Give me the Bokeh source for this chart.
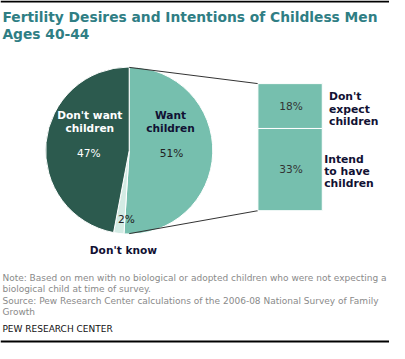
import math
from bokeh.plotting import figure
from bokeh.models import Range1d
from bokeh.core.properties import value
from bokeh.embed import file_html
from bokeh.resources import INLINE

# ---- data ----
pie_labels = ["Want children", "Don't know", "Don't want children"]
pie_values = [51, 2, 47]
pie_colors = ["#76bfae", "#d3ebe4", "#2c5a4e"]

bar_labels = ["Don't expect children", "Intend to have children"]
bar_values = [18, 33]
bar_color = "#76bfae"

title_lines = ["Fertility Desires and Intentions of Childless Men", "Ages 40-44"]
note_lines = ["Note: Based on men with no biological or adopted children who were not expecting a",
              "biological child at time of survey."]
source_lines = ["Source: Pew Research Center calculations of the 2006-08 National Survey of Family",
                "Growth"]
credit = "PEW RESEARCH CENTER"

# ---- layout (reference pixel space, y measured from top) ----
W, H = 405, 359
S = 389 / 405.0
FONT = value("DejaVu Sans")


def Y(v):
    return H - v


def fs(px):
    return "%.1fpx" % (px * S)


p = figure(width=389, height=343, x_range=Range1d(0, W), y_range=Range1d(0, H),
           output_backend="svg", toolbar_location=None, min_border=0)
p.axis.visible = False
p.grid.visible = False
p.outline_line_color = None
p.background_fill_color = "white"
p.border_fill_color = "white"

# top and bottom rules
p.line(x=[0, W], y=[Y(1), Y(1)], line_color="black", line_width=2)
p.line(x=[0, W], y=[Y(357), Y(357)], line_color="black", line_width=2)

# title
for i, t in enumerate(title_lines):
    p.text(x=[2], y=[Y(17 + 18 * i)], text=[t], text_font=FONT, text_font_style="bold",
           text_font_size=fs(14.4), text_color="#2f7e84", text_baseline="middle", text_align="left")

# pie
cx, cy, r = 134, 157, 87
total = float(sum(pie_values))
start = math.pi / 2
starts, ends = [], []
for v in pie_values:
    end = start - 2 * math.pi * v / total
    starts.append(start)
    ends.append(end)
    start = end
p.wedge(x=[cx] * 3, y=[Y(cy)] * 3, radius=r, start_angle=starts, end_angle=ends,
        direction="clock", fill_color=pie_colors, line_color="white", line_width=1)

# connector lines to bar
bx0, bx1, btop, bbot = 268, 335, 87, 220
p.line(x=[cx, bx0], y=[Y(cy - r), Y(btop)], line_color="#333333", line_width=1)
p.line(x=[cx, bx0], y=[Y(cy + r), Y(bbot)], line_color="#333333", line_width=1)

# stacked bar
k = (bbot - btop) / float(sum(bar_values))
tops, bots = [], []
cur = btop
for v in bar_values:
    tops.append(Y(cur))
    cur += v * k
    bots.append(Y(cur))
p.quad(left=bx0, right=bx1, top=tops, bottom=bots, fill_color=bar_color,
       line_color="white", line_width=1)

# bar value labels
for i, v in enumerate(bar_values):
    p.text(x=[(bx0 + bx1) / 2 + 1], y=[(tops[i] + bots[i]) / 2 + 0.5], text=["%d%%" % v],
           text_font=FONT, text_font_size=fs(11), text_color="#333333",
           text_align="center", text_baseline="middle")

# bar category labels
bar_text = [["Don't", "expect", "children"], ["Intend", "to have", "children"]]
bar_tx = [342, 337]
bar_ty = [101, 166]
for i, lines in enumerate(bar_text):
    for j, ln in enumerate(lines):
        p.text(x=[bar_tx[i]], y=[Y(bar_ty[i] + 13 * j)], text=[ln], text_font=FONT,
               text_font_style="bold", text_font_size=fs(11.2), text_color="#111133",
               text_align="left", text_baseline="middle")

# pie labels
p.text(x=[93, 93], y=[Y(120), Y(133)], text=["Don't want", "children"], text_font=FONT,
       text_font_style="bold", text_font_size=fs(11), text_color="white",
       text_align="center", text_baseline="middle")
p.text(x=[92], y=[Y(160)], text=["%d%%" % pie_values[2]], text_font=FONT,
       text_font_size=fs(11), text_color="white", text_align="center", text_baseline="middle")
p.text(x=[177, 177], y=[Y(120), Y(133)], text=["Want", "children"], text_font=FONT,
       text_font_style="bold", text_font_size=fs(11), text_color="#111133",
       text_align="center", text_baseline="middle")
p.text(x=[178], y=[Y(160)], text=["%d%%" % pie_values[0]], text_font=FONT,
       text_font_size=fs(11), text_color="#222222", text_align="center", text_baseline="middle")
p.text(x=[131], y=[Y(229)], text=["%d%%" % pie_values[1]], text_font=FONT,
       text_font_size=fs(11), text_color="#222222", text_align="center", text_baseline="middle")
p.text(x=[128], y=[Y(261)], text=["Don't know"], text_font=FONT, text_font_style="bold",
       text_font_size=fs(11), text_color="#111133", text_align="center", text_baseline="middle")

# notes
for i, t in enumerate(note_lines + source_lines):
    yy = [290, 302, 314, 326][i]
    p.text(x=[2], y=[Y(yy)], text=[t], text_font=FONT, text_font_size=fs(9.4),
           text_color="#8a8a8a", text_align="left", text_baseline="middle")
p.text(x=[2], y=[Y(344)], text=[credit], text_font=FONT, text_font_size=fs(9.4),
       text_color="#111111", text_align="left", text_baseline="middle")

open("out.html", "w").write(file_html(p, INLINE))
